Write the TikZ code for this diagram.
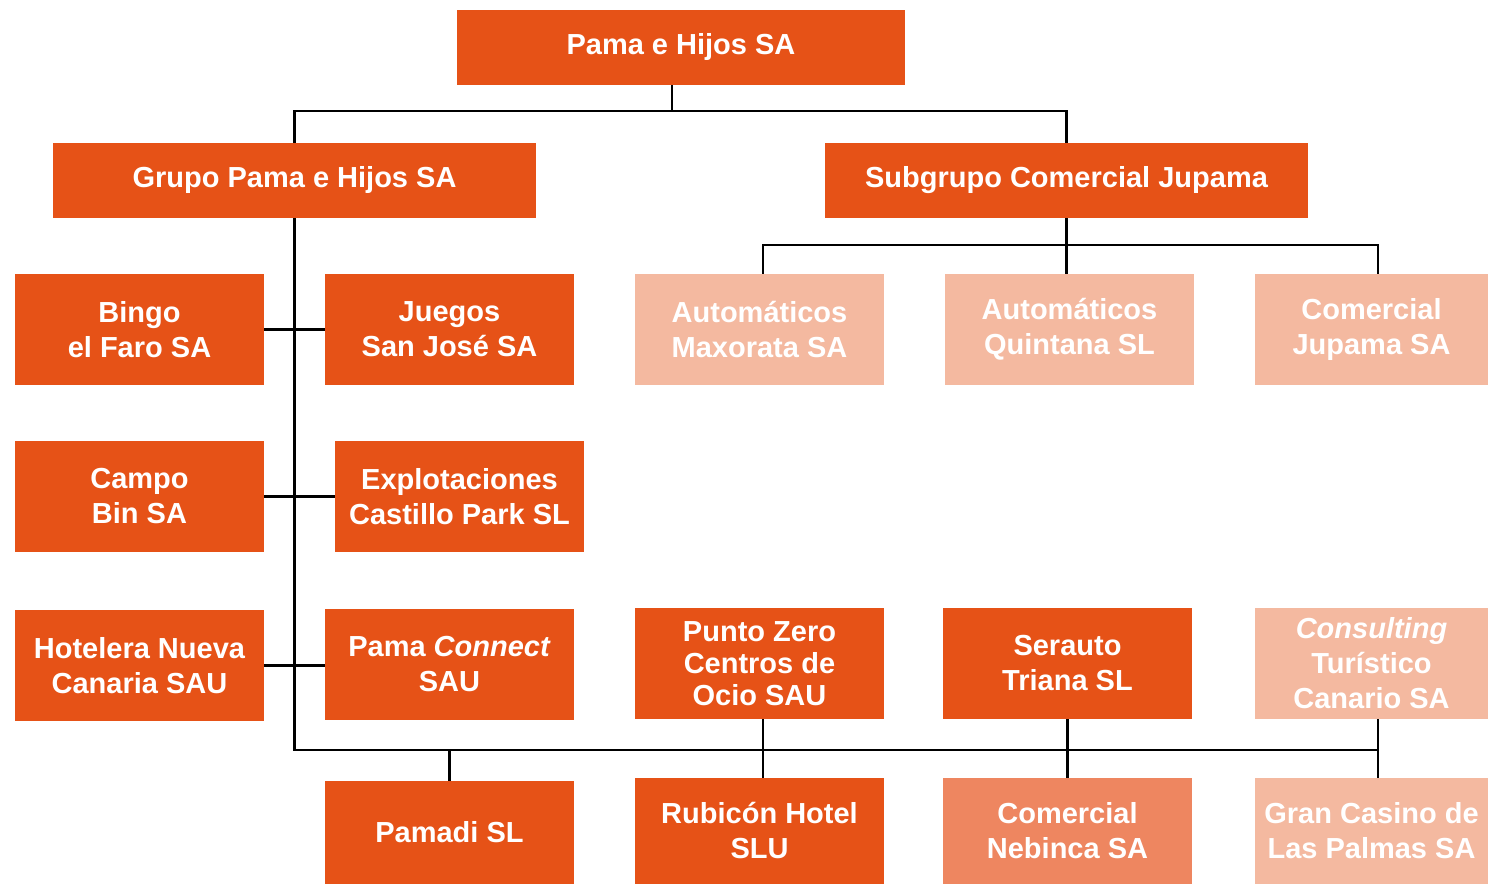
\documentclass[tikz,border=0pt]{standalone}
\usepackage{fontspec}
\setmainfont{Liberation Sans}
\definecolor{darkor}{HTML}{E65217}
\definecolor{lightor}{HTML}{F4B9A0}
\definecolor{midor}{HTML}{EE8660}
\begin{document}
\begin{tikzpicture}[x=1pt,y=-1pt,
  box/.style={rectangle, fill=darkor, text=white, align=center, inner sep=0pt,
    font=\bfseries\fontsize{29}{35}\selectfont},
  light/.style={box, fill=lightor},
  mid/.style={box, fill=midor},
  wide/.style={minimum width=483pt, minimum height=75pt},
  std/.style={minimum width=249pt, minimum height=111pt},
  narrow/.style={minimum width=233pt, minimum height=111pt},
  link/.style={draw=black, line width=2.4pt}]
\useasboundingbox (0,0) rectangle (1489,885);
\node[box, minimum width=448pt, minimum height=75pt] (top) at (681,47.5) {Pama e Hijos SA};
\node[box, wide] (grupo) at (294.5,180.5) {Grupo Pama e Hijos SA};
\node[box, wide] (sub) at (1066.5,180.5) {Subgrupo Comercial Jupama};

\node[box, std] (bingo) at (139.5,329.5) {Bingo\\el Faro SA};
\node[box, std] (juegos) at (449.5,329.5) {Juegos\\San José SA};
\node[light, std] (maxorata) at (759.5,329.5) {Automáticos\\Maxorata SA};
\node[light, std] (quintana) at (1069.5,329.5) {Automáticos\\Quintana SL};
\node[light, narrow] (jupama) at (1371.5,329.5) {Comercial\\Jupama SA};

\node[box, std] (campo) at (139.5,496.5) {Campo\\Bin SA};
\node[box, std] (explot) at (459.5,496.5) {Explotaciones\\Castillo Park SL};

\node[box, std] (hotelera) at (139.5,665.5) {Hotelera Nueva\\Canaria SAU};
\node[box, std] (connect) at (449.5,664.5) {Pama \textit{Connect}\\SAU};
\node[box, std, font=\bfseries\fontsize{29}{32}\selectfont] (punto) at (759.5,663.5) {Punto Zero\\Centros de\\Ocio SAU};
\node[box, std] (serauto) at (1067.5,663.5) {Serauto\\Triana SL};
\node[light, narrow] (consult) at (1371.5,663.5) {\textit{Consulting}\\Turístico\\Canario SA};

\node[box, minimum width=249pt, minimum height=103pt] (pamadi) at (449.5,832.5) {Pamadi SL};
\node[box, minimum width=249pt, minimum height=106pt] (rubicon) at (759.5,831) {Rubicón Hotel\\SLU};
\node[mid, minimum width=249pt, minimum height=106pt] (nebinca) at (1067.5,831) {Comercial\\Nebinca SA};
\node[light, minimum width=233pt, minimum height=106pt] (casino) at (1371.5,831) {Gran Casino de\\Las Palmas SA};

\coordinate (busA) at (0,111);
\coordinate (busB) at (0,245);
\coordinate (busC) at (0,750);
\coordinate (tx) at (672,0);
\coordinate (mx) at (763,0);
\coordinate (rx) at (1378,0);

\draw[link] (top.south -| tx) -- (tx |- busA);
\draw[link] (grupo.north) |- (sub.north |- busA) -- (sub.north);
\draw[link] (sub.south) -- (sub.south |- quintana.north);
\draw[link] (maxorata.north -| mx) |- (rx |- busB) -- (jupama.north -| rx);
\draw[link] (grupo.south) |- (rx |- busC);
\draw[link] (bingo.east) -- (juegos.west);
\draw[link] (campo.east) -- (explot.west);
\draw[link] (hotelera.east) -- (hotelera.east -| connect.west);
\draw[link] (pamadi.north) -- (pamadi.north |- busC);
\draw[link] (punto.south -| mx) -- (rubicon.north -| mx);
\draw[link] (serauto.south) -- (nebinca.north);
\draw[link] (consult.south -| rx) -- (casino.north -| rx);
\end{tikzpicture}
\end{document}
